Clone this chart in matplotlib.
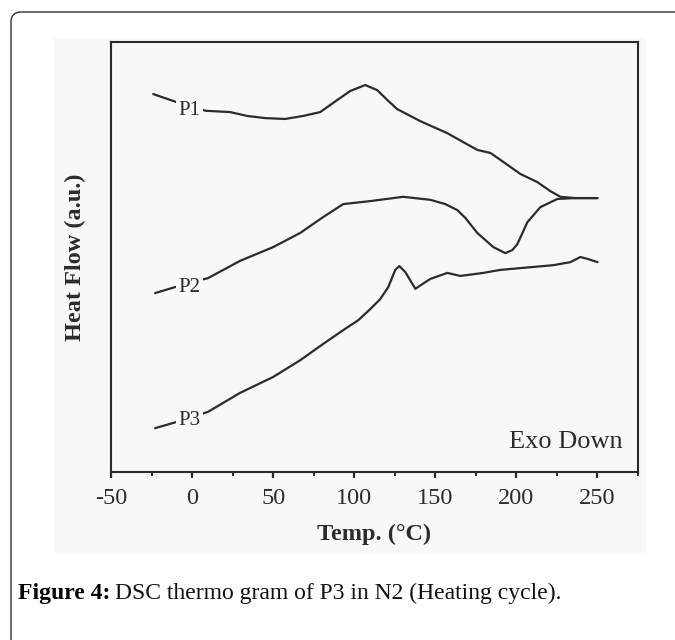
import matplotlib
matplotlib.use('Agg')
import matplotlib.pyplot as plt
import matplotlib.patches as patches
from matplotlib.ticker import MultipleLocator

plt.rcParams['axes.unicode_minus'] = False

# ---- data (temperature in C, heat flow in a.u.)
p1_temp = [-24, -11.7, -1.2, 8.6, 23.5, 34.0, 45.1, 57.4, 68.5, 79.0, 89.5, 97.5, 106.8,
           114.2, 121.0, 126.5, 140.7, 157.4, 167.3, 175.9, 184.0, 190.1, 202.5, 213.0,
           221.0, 227.2, 236.4, 250]
p1_flow = [8.79, 8.63, 8.49, 8.40, 8.37, 8.28, 8.23, 8.21, 8.28, 8.37, 8.65, 8.86, 9.00,
           8.88, 8.63, 8.44, 8.16, 7.88, 7.67, 7.49, 7.42, 7.26, 6.93, 6.74,
           6.53, 6.40, 6.37, 6.37]

p2_temp = [-22.8, -12.3, -1.2, 9.9, 29.6, 50.0, 66.7, 80.9, 93.2, 109.9, 130.2, 146.9,
           156.2, 163.6, 168.5, 175.9, 185.8, 193.2, 197.5, 200.6, 206.8, 214.8, 225.3,
           236.4, 250]
p2_flow = [4.16, 4.28, 4.40, 4.51, 4.91, 5.23, 5.56, 5.93, 6.23, 6.30, 6.40, 6.33,
           6.23, 6.09, 5.91, 5.56, 5.23, 5.09, 5.16, 5.30, 5.81, 6.16, 6.35,
           6.37, 6.37]

p3_temp = [-22.8, -11.7, -1.2, 9.9, 29.6, 50.0, 66.7, 80.9, 94.4, 102.5, 109.9, 116.0,
           121.0, 125.3, 127.8, 131.5, 137.7, 142.0, 146.9, 157.4, 165.4, 179.6, 190.1,
           222.8, 233.3, 239.5, 244.4, 250]
p3_flow = [1.02, 1.14, 1.26, 1.40, 1.84, 2.21, 2.60, 2.98, 3.33, 3.53, 3.79, 4.02,
           4.30, 4.70, 4.79, 4.65, 4.26, 4.37, 4.49, 4.63, 4.56, 4.63, 4.70,
           4.81, 4.88, 5.00, 4.95, 4.88]

curve_names = ['P1', 'P2', 'P3']
label_pos = [(-1.5, 8.40), (-1.5, 4.30), (-1.5, 1.20)]

serif = ['Liberation Serif', 'DejaVu Serif']
ink = '#2b2b2b'
bg = '#f8f8f8'

fig = plt.figure(figsize=(6.75, 6.4), dpi=100)
fig.patch.set_facecolor('white')

# card border (rounded, runs off the right and bottom edge)
card = patches.FancyBboxPatch((0.11, -1.0), 10, 7.28,
                              boxstyle='round,pad=0,rounding_size=0.1',
                              transform=fig.dpi_scale_trans, fc='white', ec='#333333',
                              lw=1.0, zorder=-2)
fig.patches.append(card)
# light grey picture area
shade = patches.Rectangle((0.54, 0.87), 5.92, 5.15, transform=fig.dpi_scale_trans,
                          fc=bg, ec='none', zorder=-1)
fig.patches.append(shade)

ax = fig.add_axes([111/675, 168/640, 527/675, 430/640])
ax.set_facecolor(bg)

for t, f in [(p1_temp, p1_flow), (p2_temp, p2_flow), (p3_temp, p3_flow)]:
    ax.plot(t, f, color=ink, lw=1.6, solid_joinstyle='round', solid_capstyle='round')

for name, (x, y) in zip(curve_names, label_pos):
    ax.text(x, y, name, family=serif, fontsize=15, color=ink, ha='center', va='center',
            bbox=dict(boxstyle='square,pad=0.12', fc=bg, ec='none'))

ax.text(0.9715, 0.07, 'Exo Down', transform=ax.transAxes, family=serif, fontsize=19,
        color=ink, ha='right', va='center')

ax.set_xlim(-50, 275)
ax.set_ylim(0, 10)
ax.xaxis.set_major_locator(MultipleLocator(50))
ax.xaxis.set_minor_locator(MultipleLocator(25))
ax.tick_params(axis='x', which='major', direction='out', length=4.5, width=1.6,
               color=ink, labelcolor=ink, pad=7, labelsize=17.5)
ax.tick_params(axis='x', which='minor', direction='out', length=3, width=1.4, color=ink)
ax.set_yticks([])
for lab in ax.get_xticklabels():
    lab.set_family(serif)
for sp in ax.spines.values():
    sp.set_color(ink)
    sp.set_linewidth(1.5)

ax.set_xlabel('Temp. (°C)', family=serif, fontsize=17.5, fontweight='bold', color=ink, va='center')
ax.xaxis.set_label_coords(0.5, -0.145)
ax.set_ylabel('Heat Flow (a.u.)', family=serif, fontsize=17.5, fontweight='bold', color=ink,
              va='center')
ax.yaxis.set_label_coords(-0.0683, 0.5)

# caption, bold lead-in then regular text
cap_y = (640 - 593) / 640
t1 = fig.text(18/675, cap_y, 'Figure 4:', family=serif, fontsize=17, fontweight='bold',
              color='black', va='center')
fig.canvas.draw()
bb = t1.get_window_extent(renderer=fig.canvas.get_renderer())
fig.text(bb.x1 / 675 + 5/675, cap_y, 'DSC thermo gram of P3 in N2 (Heating cycle).',
         family=serif, fontsize=17, color='#111111', va='center')

fig.savefig('out.png', dpi=100, facecolor=fig.get_facecolor())
